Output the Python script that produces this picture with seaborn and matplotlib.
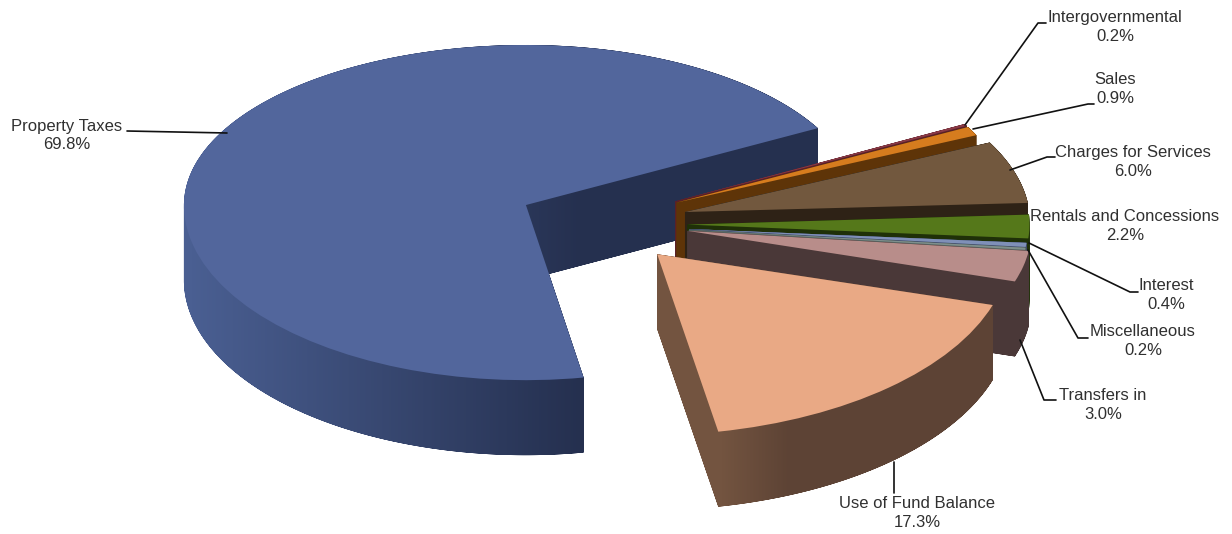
import matplotlib
matplotlib.use("Agg")
import matplotlib.pyplot as plt
import numpy as np
import seaborn as sns
from matplotlib.path import Path
from matplotlib.patches import PathPatch
from matplotlib.transforms import Affine2D
from matplotlib.colors import LinearSegmentedColormap

# ---- data ----
categories = ["Property Taxes", "Use of Fund Balance", "Transfers in", "Miscellaneous",
              "Interest", "Rentals and Concessions", "Charges for Services", "Sales",
              "Intergovernmental"]
shares = [69.8, 17.3, 3.0, 0.2, 0.4, 2.2, 6.0, 0.9, 0.2]

# ---- style ----
top_colors = ["#52669C", "#E9A985", "#B88D8A", "#7E8F8C", "#7F90B8", "#55781A", "#72583E",
              "#D67C1E", "#8A3A46"]
side_left = ["#4A5F92", "#735440", "#4A3838", "#55625F", "#3E4A66", "#1F3008", "#2E2216",
             "#5E3408", "#5A2028"]
side_right = ["#25304F", "#5D4335", "#4A3838", "#55625F", "#3E4A66", "#1F3008", "#2E2216",
              "#5E3408", "#5A2028"]
grad_span = [(190, 582), (722, 790), (0, 1232), (0, 1232), (0, 1232), (0, 1232), (0, 1232),
             (0, 1232), (0, 1232)]
draw_order = [0, 8, 7, 6, 5, 4, 3, 2, 1]
EXPLODE = 0.25
START = 28.7
RX, RY = 342.0, 166.0
CX, CY = 604.0, 226.0
DEPTH = 75
# perspective correction per slice: shift x, shift y, x scale left, x scale right,
# y scale up, y scale down, y shear, x shear (reference pixels / ratios)
warp = [
    (-1, -3, 1.000, 0.973, 0.964, 1.055, 0.0, 0.0),
    (-3, -3, 1.000, 1.030, 1.000, 1.090, 0.0134, 0.0),
    (0, -4, 1.000, 1.005, 1.000, 1.000, 0.0, 0.0),
    (0, -1, 1.000, 0.990, 1.000, 1.000, 0.0, 0.0),
    (0, -1, 1.000, 0.990, 1.000, 1.000, 0.0, 0.0),
    (-2, -2, 1.000, 1.000, 1.100, 1.000, 0.0, 0.0),
    (-2, -4, 1.000, 1.007, 1.000, 1.000, 0.0, -0.116),
    (-4, -5, 1.000, 0.965, 0.970, 1.000, 0.0, 0.0),
    (-4, -5, 1.000, 0.965, 0.970, 1.000, 0.0, 0.0),
]

sns.set_theme(style="white")
plt.rcParams["font.family"] = ["Liberation Sans", "DejaVu Sans"]

W, H = 1232, 534
fig = plt.figure(figsize=(W / 100, H / 100), dpi=100)
ax = fig.add_axes([0, 0, 1, 1])
px = lambda x: x / RX
py = lambda y: -y / RY


def warped(wedge, params):
    sh_x, sh_y, sxl, sxr, syu, syd, k, kx = params
    path = wedge.get_path()
    cx, cy = wedge.center
    d = path.vertices - np.array([cx, cy])
    x = d[:, 0] * np.where(d[:, 0] > 0, sxr, sxl) + kx * d[:, 1] * RY / RX
    y = d[:, 1] * np.where(d[:, 1] > 0, syu, syd) + k * d[:, 0] * RX / RY
    verts = np.column_stack([cx + x + sh_x / RX, cy + y - sh_y / RY])
    return Path(verts, path.codes)


def swept(path, depth):
    """Outline of a slice pushed straight down by depth: one quad per edge plus both caps."""
    fine = Affine2D().scale(RX * 8, RY * 8)
    poly = fine.inverted().transform(path.transformed(fine).to_polygons(closed_only=True)[0])
    off = np.array([0.0, -depth / RY])
    parts = []
    for cap in (poly, poly + off):
        area = np.sum(cap[:-1, 0] * cap[1:, 1] - cap[1:, 0] * cap[:-1, 1])
        parts.append(Path(cap if area > 0 else cap[::-1], closed=True))
    for a, b in zip(poly[:-1], poly[1:]):
        quad = np.array([a, b, b + off, a + off, a])
        area = np.sum(quad[:-1, 0] * quad[1:, 1] - quad[1:, 0] * quad[:-1, 1])
        if abs(area) > 1e-12:
            parts.append(Path(quad if area > 0 else quad[::-1], closed=True))
    return Path.make_compound_path(*parts)


vals = np.array(shares)
explode = [EXPLODE] * len(vals)
top, _ = ax.pie(vals, explode=explode, startangle=START, radius=1,
                center=(px(CX), py(CY)), colors=top_colors,
                wedgeprops=dict(linewidth=0))
xcols = np.linspace(0, W, 1232)
for rank, i in enumerate(draw_order):
    shape = warped(top[i], warp[i])
    patch = PathPatch(shape, facecolor=top_colors[i], edgecolor="none",
                      zorder=10 + 2 * rank + 1)
    top[i].remove()
    ax.add_patch(patch)
    cm = LinearSegmentedColormap.from_list("g", [side_left[i], side_right[i]])
    x0, x1 = grad_span[i]
    grad = np.clip((xcols - x0) / (x1 - x0), 0, 1)[None, :]
    im = ax.imshow(grad, cmap=cm, aspect="auto", vmin=0, vmax=1,
                   extent=(px(0), px(W), py(H), py(0)), zorder=10 + 2 * rank)
    im.set_clip_path(swept(shape, DEPTH), ax.transData)

ax.set_aspect("auto")
ax.set_axis_off()

# ---- labels and leader lines (layout in reference pixels) ----
label_pos = [(67, 135.5), (917, 513), (1103, 405), (1143, 341), (1166, 295), (1125, 226),
             (1133, 162), (1115, 89), (1115, 27)]
leaders = [
    [(127, 131), (227, 133)],
    [(894, 462), (894, 493)],
    [(1020, 340), (1044, 400), (1056, 400)],
    [(1028, 250), (1078, 338), (1088, 338)],
    [(1029, 243), (1130, 292), (1138, 292)],
    [],
    [(1010, 170), (1047, 157), (1055, 157)],
    [(973, 129), (1088, 104), (1094, 104)],
    [(965, 125), (1038, 23), (1046, 23)],
]
for i, name in enumerate(categories):
    lx, ly = label_pos[i]
    ax.text(px(lx), py(ly), f"{name}\n{shares[i]:.1f}%", ha="center", va="center",
            fontsize=12, color="#303030", linespacing=1.33, zorder=50)
    if leaders[i]:
        xs, ys = zip(*leaders[i])
        ax.plot([px(x) for x in xs], [py(y) for y in ys], color="#111111", lw=1.2, zorder=40)

ax.set_xlim(0, px(W))
ax.set_ylim(py(H), 0)
fig.savefig("out.png", dpi=100, facecolor="white")
